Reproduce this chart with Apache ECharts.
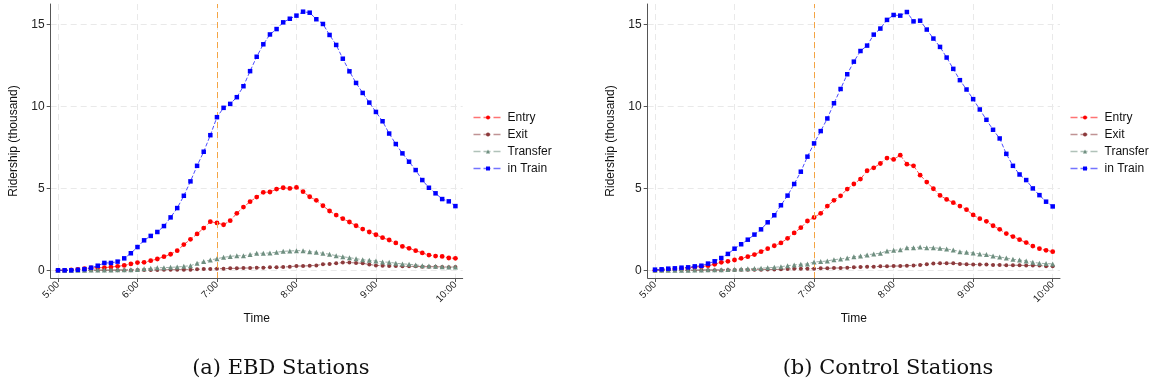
<!DOCTYPE html>
<html>
<head>
<meta charset="utf-8">
<script src="https://cdn.jsdelivr.net/npm/echarts@6/dist/echarts.min.js"></script>
<style>
  html, body { margin: 0; padding: 0; background: #fff; }
  #chart { width: 1156px; height: 389px; }
</style>
</head>
<body>
<div id="chart"></div>
<script>
// Five-minute sampling times, 5:00 to 10:00
const times = [
  '5:00','5:05','5:10','5:15','5:20','5:25','5:30','5:35','5:40','5:45','5:50','5:55',
  '6:00','6:05','6:10','6:15','6:20','6:25','6:30','6:35','6:40','6:45','6:50','6:55',
  '7:00','7:05','7:10','7:15','7:20','7:25','7:30','7:35','7:40','7:45','7:50','7:55',
  '8:00','8:05','8:10','8:15','8:20','8:25','8:30','8:35','8:40','8:45','8:50','8:55',
  '9:00','9:05','9:10','9:15','9:20','9:25','9:30','9:35','9:40','9:45','9:50','9:55',
  '10:00'
];
const xTickLabels = ['5:00', '6:00', '7:00', '8:00', '9:00', '10:00'];
const yTicks = [0, 5, 10, 15];
const policyTime = '7:00';
const seriesNames = ['Entry', 'Exit', 'Transfer', 'in Train'];

// (a) EBD stations, ridership in thousands
const ebdEntry = [
  0, 0, 0.02, 0.06, 0.1, 0.14, 0.16, 0.16, 0.2, 0.24, 0.3, 0.39,
  0.47, 0.49, 0.59, 0.69, 0.83, 0.98, 1.2, 1.57, 1.89, 2.22, 2.58, 2.97,
  2.89, 2.78, 3.03, 3.48, 3.86, 4.19, 4.47, 4.76, 4.78, 4.96, 5.04, 5.0,
  5.06, 4.8, 4.49, 4.27, 3.94, 3.62, 3.37, 3.15, 2.95, 2.72, 2.52, 2.34,
  2.17, 1.99, 1.85, 1.67, 1.46, 1.34, 1.2, 1.06, 0.93, 0.87, 0.85, 0.75,
  0.73
];
const ebdExit = [
  0, 0, 0, 0, 0, 0, 0, 0, 0, 0.01, 0.01, 0.01,
  0.02, 0.02, 0.02, 0.02, 0.03, 0.04, 0.04, 0.04, 0.04, 0.06, 0.08, 0.08,
  0.1, 0.1, 0.12, 0.12, 0.14, 0.14, 0.16, 0.16, 0.18, 0.18, 0.2, 0.22,
  0.26, 0.26, 0.28, 0.3, 0.37, 0.39, 0.43, 0.47, 0.47, 0.45, 0.43, 0.35,
  0.3, 0.28, 0.26, 0.26, 0.24, 0.24, 0.24, 0.22, 0.22, 0.22, 0.2, 0.18,
  0.2
];
const ebdTransfer = [
  0, 0, 0, 0.01, 0.01, 0.02, 0.02, 0.02, 0.02, 0.03, 0.03, 0.04,
  0.05, 0.1, 0.12, 0.16, 0.16, 0.18, 0.2, 0.24, 0.28, 0.43, 0.53, 0.63,
  0.71, 0.79, 0.85, 0.89, 0.89, 0.96, 1.04, 1.04, 1.06, 1.1, 1.16, 1.18,
  1.2, 1.2, 1.14, 1.1, 1.04, 0.98, 0.89, 0.83, 0.77, 0.71, 0.65, 0.61,
  0.57, 0.51, 0.49, 0.43, 0.39, 0.37, 0.33, 0.28, 0.26, 0.24, 0.22, 0.2,
  0.2
];
const ebdInTrain = [
  0, 0, 0, 0.03, 0.07, 0.16, 0.28, 0.45, 0.45, 0.53, 0.73, 1.04,
  1.42, 1.83, 2.1, 2.34, 2.7, 3.23, 3.8, 4.55, 5.43, 6.38, 7.24, 8.25,
  9.35, 9.92, 10.16, 10.57, 11.24, 12.16, 13.04, 13.8, 14.4, 14.73, 15.14, 15.36,
  15.55, 15.79, 15.73, 15.33, 15.04, 14.37, 13.76, 12.92, 12.15, 11.44, 10.83, 10.24,
  9.67, 9.1, 8.35, 7.71, 7.14, 6.63, 6.12, 5.51, 5.04, 4.7, 4.35, 4.21,
  3.92
];

// (b) Control stations, ridership in thousands
const ctrlEntry = [
  0, 0.02, 0.04, 0.08, 0.12, 0.14, 0.2, 0.22, 0.28, 0.37, 0.49, 0.55,
  0.63, 0.73, 0.83, 0.96, 1.14, 1.32, 1.5, 1.67, 1.95, 2.28, 2.6, 3.01,
  3.23, 3.48, 3.92, 4.27, 4.55, 4.96, 5.27, 5.57, 6.08, 6.26, 6.52, 6.85,
  6.77, 7.03, 6.48, 6.38, 5.81, 5.39, 4.98, 4.57, 4.33, 4.13, 3.92, 3.7,
  3.38, 3.15, 2.99, 2.72, 2.5, 2.24, 2.06, 1.87, 1.69, 1.48, 1.32, 1.22,
  1.14
];
const ctrlExit = [
  0, 0, 0, 0, 0, 0, 0, 0.01, 0.01, 0.01, 0.01, 0.02,
  0.02, 0.03, 0.03, 0.04, 0.04, 0.05, 0.05, 0.06, 0.08, 0.09, 0.1, 0.1,
  0.1, 0.12, 0.12, 0.14, 0.14, 0.16, 0.18, 0.2, 0.22, 0.22, 0.24, 0.24,
  0.26, 0.26, 0.28, 0.3, 0.33, 0.37, 0.41, 0.43, 0.43, 0.43, 0.39, 0.37,
  0.35, 0.35, 0.35, 0.33, 0.33, 0.31, 0.31, 0.31, 0.29, 0.29, 0.29, 0.25,
  0.24
];
const ctrlTransfer = [
  0, 0, 0, 0.01, 0.01, 0.01, 0.02, 0.02, 0.03, 0.03, 0.04, 0.05,
  0.06, 0.08, 0.1, 0.11, 0.13, 0.15, 0.18, 0.22, 0.28, 0.33, 0.37, 0.39,
  0.51, 0.53, 0.57, 0.65, 0.69, 0.75, 0.83, 0.87, 0.94, 1.0, 1.04, 1.18,
  1.22, 1.26, 1.38, 1.38, 1.42, 1.38, 1.38, 1.34, 1.3, 1.24, 1.14, 1.1,
  1.06, 1.0, 0.96, 0.87, 0.81, 0.75, 0.67, 0.63, 0.57, 0.49, 0.43, 0.41,
  0.39
];
const ctrlInTrain = [
  0.04, 0.06, 0.1, 0.12, 0.16, 0.18, 0.24, 0.28, 0.41, 0.55, 0.75, 1.0,
  1.32, 1.59, 1.87, 2.18, 2.5, 2.93, 3.36, 3.97, 4.56, 5.27, 6.02, 6.94,
  7.75, 8.5, 9.27, 10.2, 11.07, 11.97, 12.74, 13.39, 13.72, 14.39, 14.76, 15.29,
  15.59, 15.55, 15.77, 15.2, 15.24, 14.7, 14.15, 13.64, 12.99, 12.3, 11.61, 11.04,
  10.45, 9.82, 9.19, 8.58, 8.05, 7.11, 6.38, 5.85, 5.51, 5.0, 4.59, 4.19,
  3.9
];

const captionA = '(a) EBD Stations';
const captionB = '(b) Control Stations';

// ---- helpers ----
function toMinutes(s) {
  const parts = s.split(':');
  return Number(parts[0]) * 60 + Number(parts[1]);
}
function fmtTime(v) {
  const h = Math.floor(v / 60);
  const m = Math.round(v - h * 60);
  return h + ':' + (m < 10 ? '0' + m : m);
}
const xMins = times.map(toMinutes);
const xTickValues = xTickLabels.map(toMinutes);
const policyMin = toMinutes(policyTime);

const SANS = 'Liberation Sans, Arial, sans-serif';
const styles = {
  'Entry':    { color: '#ff0000', symbol: 'circle',   size: 4.8 },
  'Exit':     { color: '#8c3a3c', symbol: 'circle',   size: 4 },
  'Transfer': { color: '#6f8f80', symbol: 'triangle', size: 5 },
  'in Train': { color: '#0000ff', symbol: 'rect',     size: 4.5 }
};

function makeXAxis(gridIndex) {
  return {
    type: 'value', gridIndex: gridIndex,
    min: xMins[0] - 5.5, max: xMins[xMins.length - 1] + 5.5,
    name: 'Time', nameLocation: 'middle', nameGap: 35,
    nameTextStyle: { fontSize: 12, fontFamily: SANS, color: '#111' },
    axisLine: { show: true, onZero: false, lineStyle: { color: '#555', width: 1 } },
    axisTick: { show: true, customValues: xTickValues, length: 4, lineStyle: { color: '#555' } },
    axisLabel: {
      customValues: xTickValues, rotate: 45, margin: 5,
      fontSize: 10, fontFamily: SANS, color: '#222',
      formatter: fmtTime
    },
    splitLine: { show: true, lineStyle: { color: '#e9e9e9', type: [6, 4], width: 1 } }
  };
}
function makeYAxis(gridIndex) {
  return {
    type: 'value', gridIndex: gridIndex,
    min: -0.47, max: 16.26,
    name: 'Ridership (thousand)', nameLocation: 'middle', nameGap: 31, nameRotate: 90,
    nameTextStyle: { fontSize: 12, fontFamily: SANS, color: '#111' },
    axisLine: { show: true, onZero: false, lineStyle: { color: '#555', width: 1 } },
    axisTick: { show: true, customValues: yTicks, length: 4, lineStyle: { color: '#555' } },
    axisLabel: { customValues: yTicks, margin: 6, fontSize: 12, fontFamily: SANS, color: '#222' },
    splitLine: { show: true, lineStyle: { color: '#e9e9e9', type: [6, 4], width: 1 } }
  };
}
function makeSeries(gridIndex, values) {
  return seriesNames.map(function (name, k) {
    const st = styles[name];
    const s = {
      type: 'line', name: name,
      xAxisIndex: gridIndex, yAxisIndex: gridIndex,
      data: values[k].map(function (v, i) { return [xMins[i], v]; }),
      symbol: st.symbol, symbolSize: st.size, showSymbol: true,
      itemStyle: { color: st.color },
      lineStyle: { color: st.color, width: 1, type: [4, 2], opacity: 0.7 },
      emphasis: { disabled: true },
      animation: false, z: 3 + k
    };
    if (k === 0) {
      s.markLine = {
        silent: true, symbol: 'none', animation: false,
        label: { show: false },
        lineStyle: { color: '#f4a444', type: [6, 4], width: 1 },
        data: [{ xAxis: policyMin }]
      };
    }
    return s;
  });
}
function makeLegend(left) {
  return {
    data: seriesNames, orient: 'vertical', left: left, top: 111.5,
    padding: 0, itemWidth: 29, itemHeight: 5, itemGap: 5,
    selectedMode: false,
    lineStyle: { type: [7, 3], width: 1.6, opacity: 0.55 },
    textStyle: { fontSize: 12, fontFamily: SANS, color: '#111' }
  };
}

const chart = echarts.init(document.getElementById('chart'), null, { renderer: 'canvas' });
chart.setOption({
  backgroundColor: '#ffffff',
  animation: false,
  grid: [
    { left: 50.7, top: 4, width: 412, height: 274 },
    { left: 647.7, top: 4, width: 412.3, height: 274 }
  ],
  xAxis: [makeXAxis(0), makeXAxis(1)],
  yAxis: [makeYAxis(0), makeYAxis(1)],
  legend: [makeLegend(472.7), makeLegend(1069.7)],
  series: makeSeries(0, [ebdEntry, ebdExit, ebdTransfer, ebdInTrain])
    .concat(makeSeries(1, [ctrlEntry, ctrlExit, ctrlTransfer, ctrlInTrain])),
  graphic: [
    { type: 'text', x: 280.8, y: 379.5, style: { text: captionA, fill: '#111', font: '21px "DejaVu Serif", serif', textAlign: 'center', textVerticalAlign: 'bottom' } },
    { type: 'text', x: 888, y: 379.5, style: { text: captionB, fill: '#111', font: '21px "DejaVu Serif", serif', textAlign: 'center', textVerticalAlign: 'bottom' } }
  ]
});
</script>
</body>
</html>
